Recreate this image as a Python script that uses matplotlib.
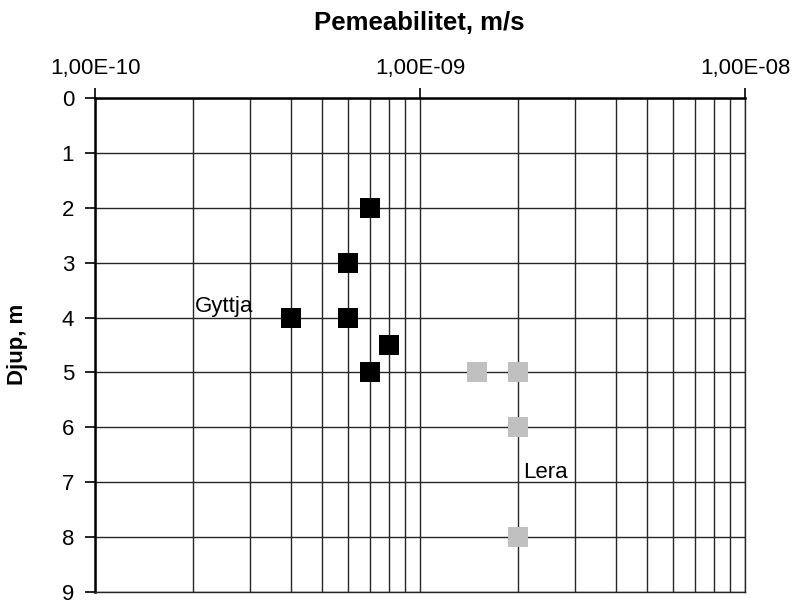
import matplotlib
matplotlib.use("Agg")
import matplotlib.pyplot as plt
from matplotlib.ticker import LogLocator, FixedLocator, NullFormatter

plt.rcParams['font.family'] = ['Liberation Sans', 'DejaVu Sans']

# Gyttja samples: permeability (m/s) and depth (m)
gyttja_k = [7e-10, 6e-10, 4e-10, 6e-10, 8e-10, 7e-10]
gyttja_depth = [2, 3, 4, 4, 4.5, 5]

# Clay (lera) samples
lera_k = [1.5e-9, 2e-9, 2e-9, 2e-9]
lera_depth = [5, 5, 6, 8]

x_ticks = [1e-10, 1e-9, 1e-8]
x_tick_labels = ["1,00E-10", "1,00E-09", "1,00E-08"]
y_ticks = list(range(0, 10))

fig = plt.figure(figsize=(7.94, 6.06), dpi=100)
ax = fig.add_axes([95 / 794, 1 - 592 / 606, 650 / 794, 494 / 606])

ax.set_xscale('log')
ax.set_xlim(1e-10, 1e-8)
ax.set_ylim(9, 0)

grid_col = '#262626'
ax.xaxis.set_major_locator(FixedLocator(x_ticks))
ax.xaxis.set_minor_locator(LogLocator(base=10, subs=range(2, 10)))
ax.xaxis.set_minor_formatter(NullFormatter())
ax.set_xticklabels(x_tick_labels)
ax.yaxis.set_major_locator(FixedLocator(y_ticks))

ax.grid(True, which='major', axis='both', color=grid_col, lw=1.0)
ax.grid(True, which='minor', axis='x', color=grid_col, lw=1.0)
ax.set_axisbelow(True)

ax.xaxis.tick_top()
ax.tick_params(axis='x', which='major', direction='out', length=7, width=1.2,
               labelsize=16, pad=6.5, colors='black')
ax.tick_params(axis='x', which='minor', length=0)
ax.tick_params(axis='y', which='major', direction='out', length=7, width=1.2,
               labelsize=16, pad=8)

for side in ('left', 'top'):
    ax.spines[side].set_linewidth(1.8)
    ax.spines[side].set_color('black')
for side in ('right', 'bottom'):
    ax.spines[side].set_linewidth(1.0)
    ax.spines[side].set_color(grid_col)

ax.plot(gyttja_k, gyttja_depth, linestyle='none', marker='s', ms=14,
        color='black', markeredgewidth=0, zorder=3, clip_on=False)
ax.plot(lera_k, lera_depth, linestyle='none', marker='s', ms=14,
        color='#C0C0C0', markeredgewidth=0, zorder=3, clip_on=False)

ax.text(2.03e-10, 3.90, "Gyttja", fontsize=16, ha='left', va='baseline')
ax.text(2.07e-9, 6.92, "Lera", fontsize=16, ha='left', va='baseline')

fig.text(419 / 794, 1 - 30 / 606, "Pemeabilitet, m/s", fontsize=18.5,
         fontweight='bold', ha='center', va='baseline')
fig.text(18 / 794, 1 - 344 / 606, "Djup, m", fontsize=16, fontweight='bold',
         rotation=90, ha='center', va='center')

fig.savefig("out.png", dpi=100, facecolor='white')
